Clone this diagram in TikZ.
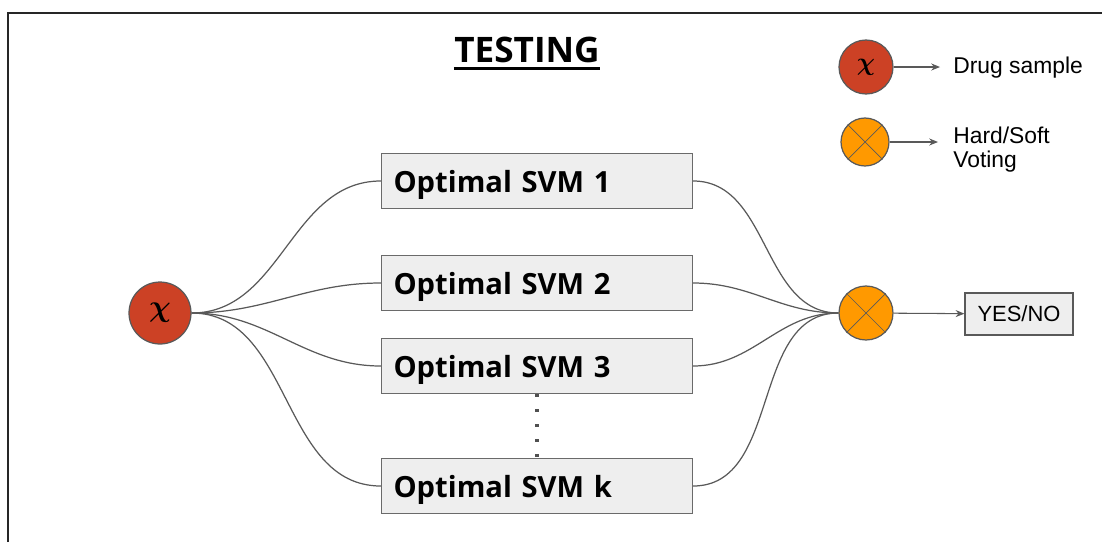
\documentclass[tikz,border=0pt]{standalone}
\usepackage{fontspec}
\usepackage{amsmath}
\usepackage{bm}
\newfontfamily\opensans{Open Sans}
\newfontfamily\arial{Liberation Sans}
\usetikzlibrary{arrows.meta,positioning,calc}
\definecolor{drugred}{HTML}{CC4125}
\definecolor{voteorange}{HTML}{FF9900}
\definecolor{boxgray}{HTML}{EEEEEE}
\definecolor{linegray}{HTML}{595959}

\begin{document}
\begin{tikzpicture}
 [x=0.02cm,y=-0.02cm,
 wire/.style={draw=linegray,line width=0.7pt},
 arr/.style={draw=linegray,line width=0.6pt,-{Stealth[length=5pt,width=4pt]}},
 svm/.style={draw=linegray!90,line width=0.8pt,fill=boxgray,
  minimum height=1.1cm,text width=5.74cm,inner xsep=0.24cm,align=left,
  text height=13.6pt,text depth=0pt,
  font=\opensans\bfseries\fontsize{16.6}{16.6}\selectfont},
 drug/.style={circle,draw=linegray,line width=0.7pt,fill=drugred,inner sep=0pt,minimum size=#1},
 vote/.style={circle,draw=linegray,line width=0.7pt,fill=voteorange,inner sep=0pt,minimum size=#1},
 legtext/.style={inner sep=0pt,align=left,font=\arial\fontsize{13}{13.6}\selectfont}]
\useasboundingbox (0,0) rectangle (1102,542);
\draw[line width=1pt,black!85] (8,542) |- (1102,13);

\node (title) at (527,50) [inner sep=0pt] {\opensans\bfseries\fontsize{20}{20}\selectfont TESTING};
\draw[line width=1.4pt] ([yshift=-3.5pt]title.base west) -- ([yshift=-3.5pt]title.base east);

% inputs and classifiers
\node (x) at (160,313) [drug=1.24cm] {\fontsize{17}{17}\selectfont$\boldsymbol{\chi}$};
\node (s1) at (537,181) [svm] {Optimal SVM 1};
\node (s2) at (537,283) [svm] {Optimal SVM 2};
\node (s3) at (537,366) [svm] {Optimal SVM 3};
\node (sk) at (537,486) [svm] {Optimal SVM k};
\node (v) at (866,313) [vote=1.08cm] {};
\node (out) at (1019,314) [draw=linegray,line width=0.7pt,fill=boxgray,
  minimum width=2.16cm,minimum height=0.84cm,font=\arial\fontsize{12.5}{12.5}\selectfont] {YES/NO};

\draw[linegray] (v.north east) -- (v.south west);
\draw[linegray] (v.north west) -- (v.south east);

\foreach \s in {s1,s2,s3,sk}{
 \draw[wire] (x.east) to[out=0,in=180] (\s.west);
 \draw[wire] (\s.east) to[out=0,in=180] (v.west);
}
\draw[linegray!90!black,line width=1.8pt,dash pattern=on 1.8pt off 6.7pt] (s3.south) -- (sk.north);
\draw[arr] (v) -- (out);

% legend
\node (lx) at (866,67) [drug=1.08cm] {\fontsize{15}{15}\selectfont$\boldsymbol{\chi}$};
\node (lv) at (865,142) [vote=0.96cm] {};
\draw[linegray] (lv.north east) -- (lv.south west);
\draw[linegray] (lv.north west) -- (lv.south east);
\node (ld) at (953,73) [legtext,anchor=base west] {Drug sample};
\node (lh) at (953,167) [legtext,anchor=base west] {Hard/Soft\\Voting};
\draw[arr,shorten >=0.26cm] (lx) -- (lx -| ld.west);
\draw[arr,shorten >=0.3cm] (lv.east) -- (lv.east -| lh.west);
\end{tikzpicture}
\end{document}
